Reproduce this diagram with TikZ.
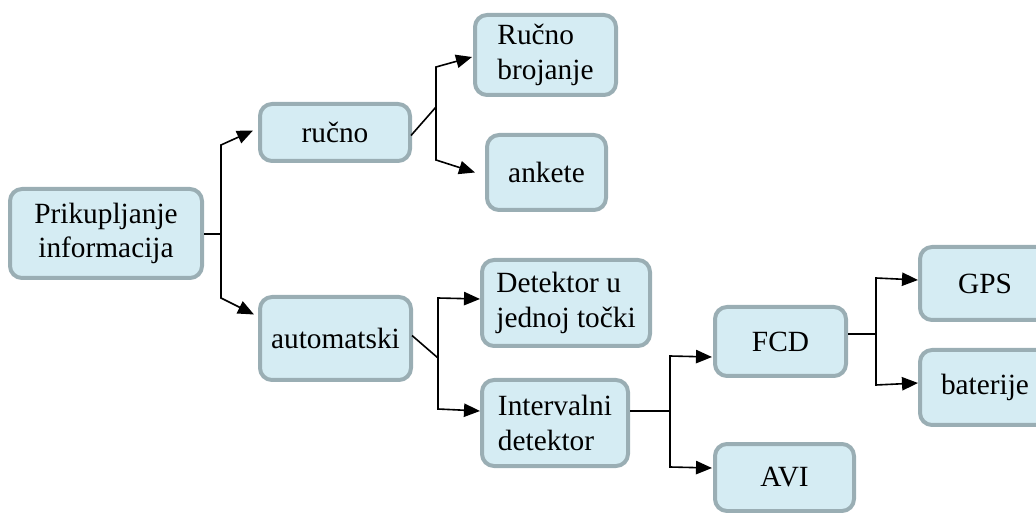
\documentclass[tikz,border=0pt]{standalone}
\usepackage{fontspec}
\setmainfont{Liberation Serif}
\usetikzlibrary{arrows.meta}
\definecolor{boxfill}{HTML}{D5ECF3}
\definecolor{boxline}{HTML}{9AAEB4}
\begin{document}
\begin{tikzpicture}[x=0.75pt,y=-0.75pt,
  box/.style={draw=boxline, line width=3pt, fill=boxfill, rounded corners=9pt,
    font=\fontsize{22pt}{26pt}\selectfont, inner sep=2pt},
  bx/.style 2 args={minimum width={(#1-4)*0.75pt}, minimum height={(#2-4)*0.75pt}},
  conn/.style={line width=1.2pt, black},
  arr/.style={conn, -{Triangle[length=12pt,width=10pt]}}]
\useasboundingbox (0,0) rectangle (1036,513);
\clip (0,0) rectangle (1036,513);
% nodes
\node[box,bx={196}{93},align=center] (A) at (106,233.5) {Prikupljanje\\informacija};
\node[box,bx={154}{61}] (B) at (335,132.5) {ručno};
\node[box,bx={145}{84},align=left] (C) at (545.5,55) {Ručno\\brojanje};
\node[box,bx={123}{79}] (D) at (546.5,172.5) {ankete};
\node[box,bx={172}{90},align=left] (F) at (566,303) {Detektor u\\jednoj točki};
\node[box,bx={155}{87}] (E) at (335.5,338.5) {automatski};
\node[box,bx={150}{90},align=left] (G) at (555,423) {Intervalni\\detektor};
\node[box,bx={135}{73}] (H) at (780.5,341.5) {FCD};
\node[box,bx={143}{71}] (I) at (784.5,477.5) {AVI};
\node[box,bx={134}{77}] (J) at (985,283.5) {GPS};
\node[box,bx={134}{79}] (K) at (985,387.5) {baterije};
% junction coordinates
\coordinate (a0) at (221,234);
\coordinate (a1) at (221,145);
\coordinate (a2) at (221,298);
\coordinate (b0) at (436,107);
\coordinate (b1) at (436,67);
\coordinate (b2) at (436,160);
\coordinate (e0) at (438,358);
\coordinate (e1) at (438,298);
\coordinate (e2) at (438,409);
\coordinate (g0) at (670,411);
\coordinate (g1) at (670,356);
\coordinate (g2) at (670,467);
\coordinate (h0) at (876,334);
\coordinate (h1) at (876,278);
\coordinate (h2) at (876,385);
% connectors
\draw[conn] (A.east |- a0) -- (a0);
\draw[arr] (a0) -- (a1) -- ([shift={(-5,-2)}]B.west);
\draw[arr] (a0) -- (a2) -- ([shift={(-4,-24)}]E.west);
\draw[conn] ([shift={(-1,3)}]B.east) -- (b0);
\draw[arr] (b0) -- (b1) -- ([shift={(-1,2)}]C.west);
\draw[arr] (b0) -- (b2) -- ([shift={(-10,0)}]D.west);
\draw[conn] ([shift={(-1,-3)}]E.east) -- (e0);
\draw[arr] (e0) -- (e1) -- ([shift={(0,-4)}]F.west);
\draw[arr] (e0) -- (e2) -- ([shift={(0,-12)}]G.west);
\draw[conn] (G.east |- g0) -- (g0);
\draw[arr] (g0) -- (g1) -- ([shift={(-1,15.5)}]H.west);
\draw[arr] (g0) -- (g2) -- ([shift={(-1,-9.5)}]I.west);
\draw[conn] (H.east |- h0) -- (h0);
\draw[arr] (h0) -- (h1) -- ([shift={(0,-3.5)}]J.west);
\draw[arr] (h0) -- (h2) -- ([shift={(0,-4.5)}]K.west);
\end{tikzpicture}
\end{document}
